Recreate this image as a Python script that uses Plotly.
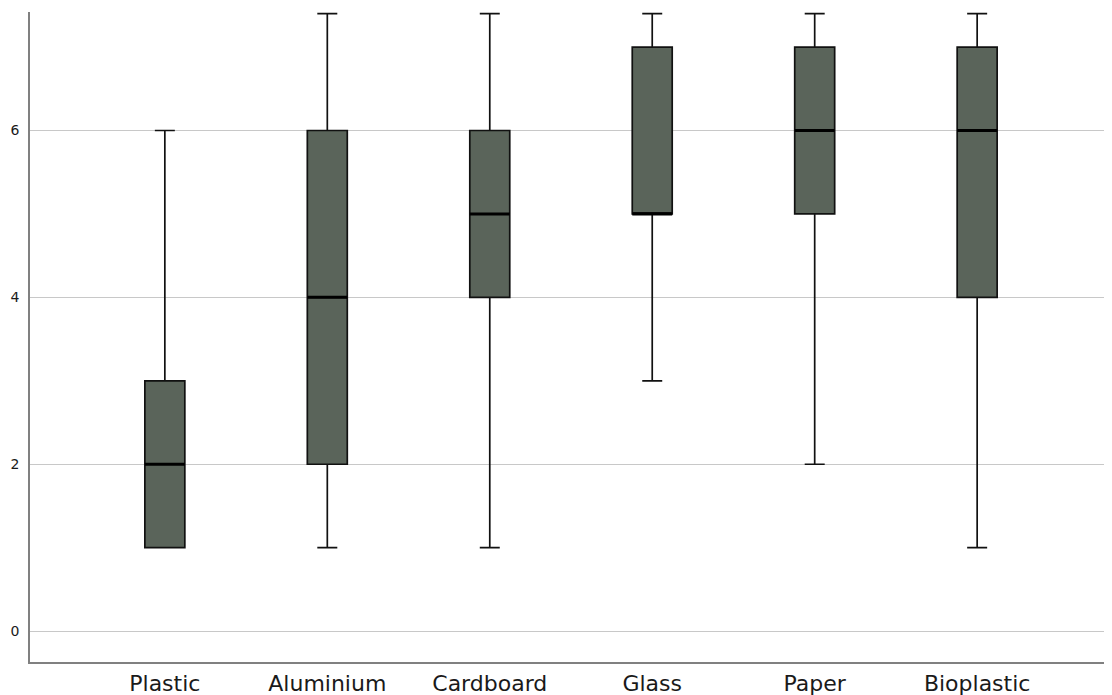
import plotly.graph_objects as go

categories = ["Plastic", "Aluminium", "Cardboard", "Glass", "Paper", "Bioplastic"]
lower_whisker = [1, 1, 1, 3, 2, 1]
q1_values = [1, 2, 4, 5, 5, 4]
median_values = [2, 4, 5, 5, 6, 6]
q3_values = [3, 6, 6, 7, 7, 7]
upper_whisker = [6, 7.4, 7.4, 7.4, 7.4, 7.4]
y_ticks = [0, 2, 4, 6]

positions = list(range(len(categories)))
box_w = 0.246

fig = go.Figure()
fig.add_trace(go.Box(
    x=positions,
    lowerfence=lower_whisker,
    q1=q1_values,
    median=median_values,
    q3=q3_values,
    upperfence=upper_whisker,
    width=box_w,
    whiskerwidth=0.5,
    fillcolor="#5a645a",
    line=dict(color="#111111", width=1.7),
    hoverinfo="skip",
    showlegend=False,
))

# thicker median lines
mx, my = [], []
for p, m in zip(positions, median_values):
    mx += [p - box_w / 2, p + box_w / 2, None]
    my += [m, m, None]
fig.add_trace(go.Scatter(x=mx, y=my, mode="lines",
                         line=dict(color="#000000", width=3),
                         hoverinfo="skip", showlegend=False))

fig.update_layout(
    width=1104, height=687,
    margin=dict(l=22, r=0, t=4, b=33, pad=0, autoexpand=False),
    plot_bgcolor="white", paper_bgcolor="white",
    font=dict(family="DejaVu Sans", color="#111111"),
    xaxis=dict(
        range=[-0.83, 5.83],
        tickmode="array", tickvals=positions, ticktext=categories,
        tickfont=dict(size=22, color="#1a1a1a"),
        showgrid=False, zeroline=False,
        showline=True, linecolor="#808080", linewidth=1.5,
        ticks="", ticklen=0, automargin=False, ticklabelstandoff=1,
    ),
    yaxis=dict(
        range=[-0.37, 7.42],
        tickmode="array", tickvals=y_ticks,
        tickfont=dict(size=14, color="#1a1a1a"),
        showgrid=True, gridcolor="#c8c8c8", gridwidth=1,
        zeroline=False,
        showline=True, linecolor="#808080", linewidth=1.5,
        ticks="", ticklen=0, automargin=False, ticklabelstandoff=6,
    ),
)

fig.write_html("out.html")
